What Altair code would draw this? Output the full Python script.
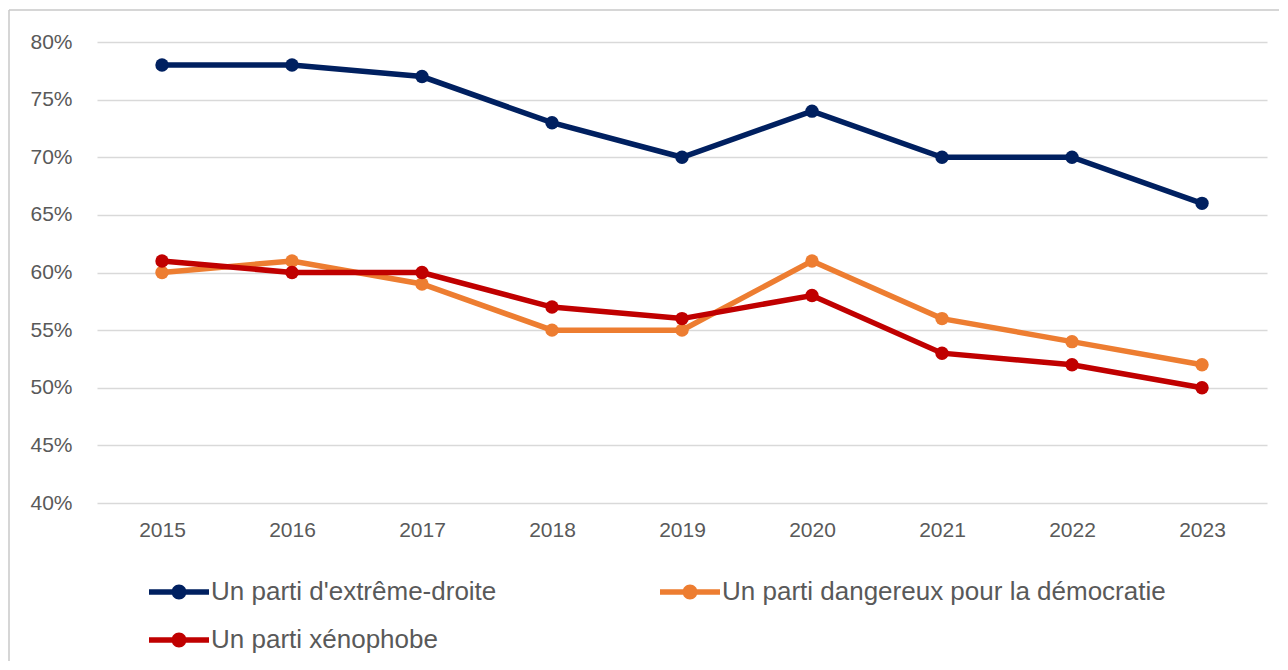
import math
import altair as alt
import pandas as pd

years = ["2015", "2016", "2017", "2018", "2019", "2020", "2021", "2022", "2023"]
series = [
    "Un parti d'extrême-droite",
    "Un parti dangereux pour la démocratie",
    "Un parti xénophobe",
]
extreme_droite = [78, 78, 77, 73, 70, 74, 70, 70, 66]
dangereux = [60, 61, 59, 55, 55, 61, 56, 54, 52]
xenophobe = [61, 60, 60, 57, 56, 58, 53, 52, 50]
colors = ["#002060", "#ED7D31", "#C00000"]
y_ticks = [40, 45, 50, 55, 60, 65, 70, 75, 80]

rows = []
for name, vals in zip(series, [extreme_droite, dangereux, xenophobe]):
    for yr, v in zip(years, vals):
        rows.append({"year": yr, "series": name, "value": v})
df = pd.DataFrame(rows)

# legend is laid out column-major by Vega: reorder so rows read as in the original
legend_order = [series[0], series[2], series[1]]
legend_colors = [colors[0], colors[2], colors[1]]

FONT = "Liberation Sans"
GREY = "#595959"

x = alt.X(
    "year:O",
    sort=years,
    scale=alt.Scale(type="point", padding=0.5),
    axis=alt.Axis(
        title=None, labelAngle=0, ticks=False, domain=False, grid=False,
        labelPadding=16, labelFontSize=21, labelColor=GREY, labelFont=FONT,
    ),
)
y = alt.Y(
    "value:Q",
    scale=alt.Scale(domain=[40, 80], nice=False, zero=False),
    axis=alt.Axis(
        title=None, values=y_ticks, labelExpr="datum.value + '%'",
        ticks=False, domain=False, grid=True, gridColor="#d9d9d9",
        gridWidth=1.6, labelPadding=25, labelFontSize=21, labelColor=GREY,
        labelFont=FONT,
    ),
)

# legend glyph: a thick line with a dot in the middle (unit symbol space)
r = 0.625
circle_pts = " ".join(
    ("M" if i == 0 else "L")
    + f"{r * math.cos(2 * math.pi * i / 32):.3f},{r * math.sin(2 * math.pi * i / 32):.3f}"
    for i in range(32)
)
legend_symbol = "M-2.5,-0.23 L2.5,-0.23 L2.5,0.23 L-2.5,0.23 Z " + circle_pts + " Z"

legend = alt.Legend(
    title=None, orient="none", legendX=69, legendY=537,
    columns=2, columnPadding=163, rowPadding=22,
    symbolType=legend_symbol, symbolSize=576, symbolStrokeWidth=0,
    labelOffset=19, labelFontSize=26, labelColor=GREY, labelFont=FONT,
    labelLimit=600,
)
color = alt.Color(
    "series:N", scale=alt.Scale(domain=legend_order, range=legend_colors), legend=legend
)

lines = alt.Chart(df).mark_line(strokeWidth=5.5, strokeCap="round").encode(
    x=x, y=y, color=color,
)
points = alt.Chart(df).mark_circle(size=180, opacity=1).encode(
    x=x, y=y, color=color,
)

# light frame along the top and left edges of the picture
frame_df = pd.DataFrame({"k": [0]})
frame_top = alt.Chart(frame_df).mark_rule(color="#c8c8c8", strokeWidth=1.5).encode(
    x=alt.value(-88), x2=alt.value(1190), y=alt.value(-32)
)
frame_left = alt.Chart(frame_df).mark_rule(color="#c8c8c8", strokeWidth=1.5).encode(
    x=alt.value(-88), y=alt.value(-32), y2=alt.value(630)
)

chart = (
    alt.layer(frame_top, frame_left, lines, points)
    .properties(
        width=1170, height=461,
        padding={"left": 89, "top": 34, "right": 12, "bottom": 158},
        autosize=alt.AutoSizeParams(type="none"),
    )
    .configure(background="white")
    .configure_view(stroke=None)
)

chart.save("out.html", embed_options={"renderer": "svg", "actions": False})
